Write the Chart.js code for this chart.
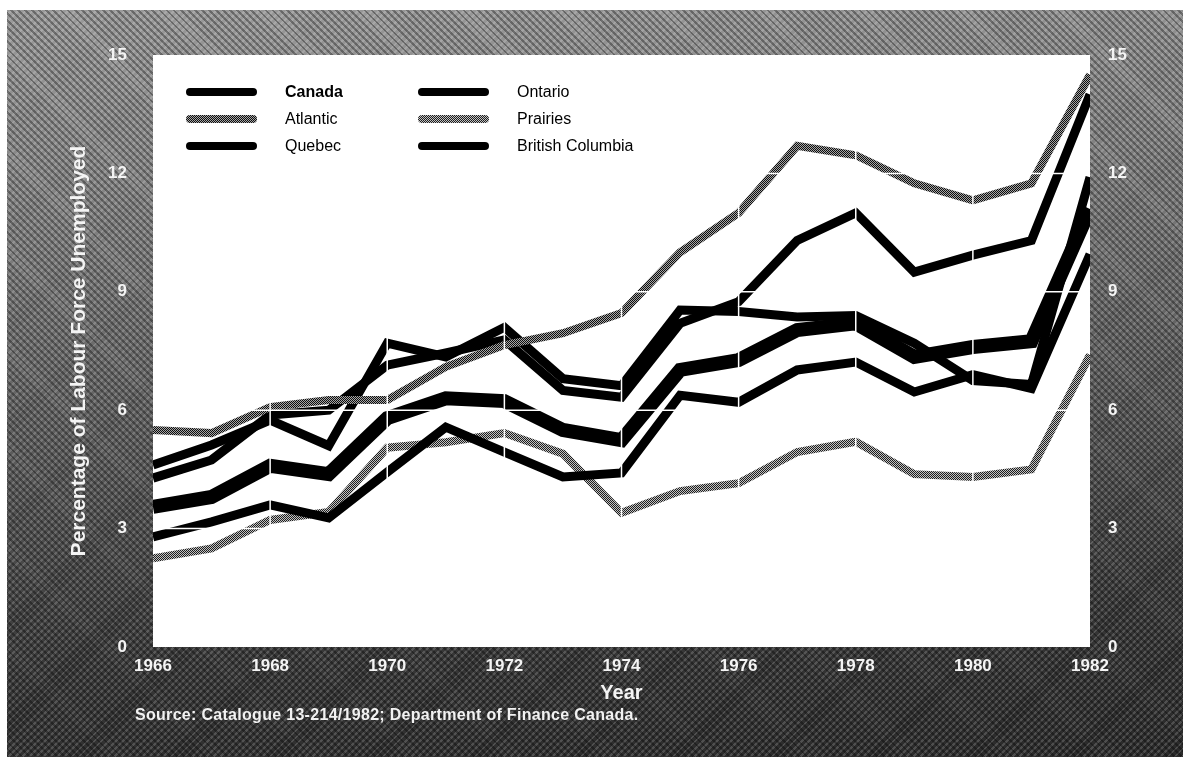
<!DOCTYPE html>
<html>
<head>
<meta charset="utf-8">
<title>Unemployment by Region, 1966-1982</title>
<script src="https://cdn.jsdelivr.net/npm/chart.js@4.4.1/dist/chart.umd.min.js"></script>
<style>
  html, body { margin: 0; padding: 0; background: #fff; }
  #wrap { position: relative; width: 1183px; height: 757px; overflow: hidden;
          font-family: 'Liberation Sans', Arial, sans-serif; }
  #frame { position: absolute; left: 7px; top: 10px; right: 0; bottom: 0;
    background-color: #555;
    background-image:
      repeating-linear-gradient(45deg, rgba(0,0,0,.32) 0 2px, rgba(0,0,0,0) 2px 5px),
      repeating-linear-gradient(-45deg, rgba(255,255,255,.16) 0 2px, rgba(255,255,255,0) 2px 5px),
      linear-gradient(176deg, #9a9a9a 0%, #828282 25%, #5a5a5a 55%, #383838 80%, #2a2a2a 100%); }
  #chart { position: absolute; left: 0; top: 0; }
  .lg { position: absolute; height: 20px; display: flex; align-items: center;
        font-size: 16px; color: #000; white-space: nowrap; }
  .sw { width: 71px; height: 8px; border-radius: 4px; margin-right: 28px; }
  #source { position: absolute; left: 135px; top: 706px; color: #f2f2f2;
            font-weight: bold; font-size: 16px; letter-spacing: 0.3px; white-space: nowrap; }
</style>
</head>
<body>
<div id="wrap">
  <div id="frame"></div>
  <canvas id="chart" width="1183" height="757"></canvas>
  <div id="legend"></div>
  <div id="source">Source: Catalogue 13-214/1982; Department of Finance Canada.</div>
</div>
<script>
  // --- Data ---
  const YEARS = ['1966', '1967', '1968', '1969', '1970', '1971', '1972', '1973', '1974',
                 '1975', '1976', '1977', '1978', '1979', '1980', '1981', '1982'];
  const TICK_YEARS = ['1966', '1968', '1970', '1972', '1974', '1976', '1978', '1980', '1982'];
  const Y_TICKS = [0, 3, 6, 9, 12, 15];

  const CANADA   = [3.55, 3.8, 4.59, 4.38, 5.8, 6.3, 6.23, 5.5, 5.24, 7.02, 7.27, 8.03, 8.2, 7.35, 7.6, 7.75, 11.1];
  const ATLANTIC = [5.5, 5.42, 6.08, 6.26, 6.26, 7.1, 7.65, 7.95, 8.46, 10.0, 11.0, 12.7, 12.46, 11.75, 11.32, 11.75, 14.5];
  const QUEBEC   = [4.28, 4.74, 5.88, 6.0, 7.14, 7.45, 7.78, 6.5, 6.33, 8.2, 8.75, 10.3, 11.0, 9.5, 9.93, 10.3, 14.0];
  const ONTARIO  = [2.79, 3.17, 3.6, 3.27, 4.43, 5.57, 4.94, 4.31, 4.41, 6.38, 6.2, 7.02, 7.22, 6.46, 6.9, 6.55, 9.95];
  const PRAIRIES = [2.25, 2.5, 3.22, 3.42, 5.05, 5.19, 5.42, 4.9, 3.4, 3.95, 4.15, 4.94, 5.2, 4.38, 4.31, 4.5, 7.4];
  const BRITISH_COLUMBIA = [4.61, 5.12, 5.75, 5.1, 7.7, 7.35, 8.1, 6.8, 6.62, 8.54, 8.5, 8.36, 8.4, 7.7, 6.75, 6.65, 11.9];

  // --- Halftone-ish gray for the two screened lines ---
  function hatch(dark, light) {
    const c = document.createElement('canvas');
    c.width = 4; c.height = 4;
    const g = c.getContext('2d');
    g.fillStyle = light; g.fillRect(0, 0, 4, 4);
    g.fillStyle = dark;
    for (let i = 0; i < 4; i++) { g.fillRect(i, i, 1, 1); g.fillRect((i + 2) % 4, i, 1, 1); }
    return c;
  }
  const atlTile = hatch('#0e0e0e', '#a6a6a6');
  const praTile = hatch('#1e1e1e', '#c2c2c2');
  const ctx = document.getElementById('chart').getContext('2d');
  const atlPat = ctx.createPattern(atlTile, 'repeat');
  const praPat = ctx.createPattern(praTile, 'repeat');

  // legend order: first column then second column
  const series = [
    { label: 'Canada', data: CANADA, color: '#000', width: 14, css: '#000', bold: true },
    { label: 'Atlantic', data: ATLANTIC, color: atlPat, width: 8, css: 'url(' + atlTile.toDataURL() + ')' },
    { label: 'Quebec', data: QUEBEC, color: '#000', width: 9, css: '#000' },
    { label: 'Ontario', data: ONTARIO, color: '#000', width: 9, css: '#000' },
    { label: 'Prairies', data: PRAIRIES, color: praPat, width: 8, css: 'url(' + praTile.toDataURL() + ')' },
    { label: 'British Columbia', data: BRITISH_COLUMBIA, color: '#000', width: 9, css: '#000' }
  ];

  // --- Plugins ---
  const plotBg = {
    id: 'plotBg',
    beforeDraw(chart) {
      const { ctx, chartArea: a } = chart;
      ctx.save();
      ctx.fillStyle = '#fff';
      ctx.fillRect(a.left, a.top, a.width, a.height);
      ctx.restore();
    }
  };

  // white rules drawn over the lines, like the gaps in the print
  const gridOver = {
    id: 'gridOver',
    afterDatasetsDraw(chart) {
      const { ctx, chartArea: a, scales: { x, y } } = chart;
      ctx.save();
      ctx.strokeStyle = '#fff';
      ctx.lineWidth = 1.5;
      TICK_YEARS.slice(1, -1).forEach(l => {
        const px = x.getPixelForValue(YEARS.indexOf(l));
        ctx.beginPath(); ctx.moveTo(px, a.top); ctx.lineTo(px, a.bottom); ctx.stroke();
      });
      Y_TICKS.slice(1, -1).forEach(v => {
        const py = y.getPixelForValue(v);
        ctx.beginPath(); ctx.moveTo(a.left, py); ctx.lineTo(a.right, py); ctx.stroke();
      });
      ctx.restore();
    }
  };

  const tickColor = '#f4f4f4';
  const tickFont = { size: 17, weight: 'bold' };
  Chart.defaults.font.family = "'Liberation Sans', Arial, sans-serif";

  new Chart(ctx, {
    type: 'line',
    data: {
      labels: YEARS,
      datasets: series.map(s => ({
        label: s.label,
        data: s.data,
        borderColor: s.color,
        backgroundColor: s.color,
        borderWidth: s.width,
        fill: false,
        clip: 0
      }))
    },
    options: {
      responsive: false,
      animation: false,
      layout: { padding: { top: 55, left: 0, right: 0, bottom: 0 } },
      plugins: { legend: { display: false }, tooltip: { enabled: false } },
      elements: {
        point: { radius: 0 },
        line: { tension: 0, borderJoinStyle: 'miter', borderCapStyle: 'butt' }
      },
      scales: {
        x: {
          type: 'category',
          offset: false,
          grid: { display: false, drawTicks: false },
          border: { display: false },
          afterBuildTicks(s) { s.ticks = TICK_YEARS.map(l => ({ value: YEARS.indexOf(l) })); },
          ticks: { autoSkip: false, maxRotation: 0, padding: 9, color: tickColor, font: tickFont },
          title: { display: true, text: 'Year', color: tickColor,
                   font: { size: 20, weight: 'bold' }, padding: { top: 0, bottom: 52 } },
          afterFit(s) { s.height = 110; }
        },
        y: {
          position: 'left',
          min: 0, max: 15,
          grid: { display: false, drawTicks: false },
          border: { display: false },
          afterBuildTicks(s) { s.ticks = Y_TICKS.map(v => ({ value: v })); },
          ticks: { padding: 26, color: tickColor, font: tickFont },
          title: { display: true, text: 'Percentage of Labour Force Unemployed', color: tickColor,
                   font: { size: 21, weight: 'bold' }, padding: { top: 67, bottom: 0 } },
          afterFit(s) { s.width = 153; }
        },
        y2: {
          position: 'right',
          min: 0, max: 15,
          grid: { display: false, drawTicks: false },
          border: { display: false },
          afterBuildTicks(s) { s.ticks = Y_TICKS.map(v => ({ value: v })); },
          ticks: { padding: 18, color: tickColor, font: tickFont },
          afterFit(s) { s.width = 93; }
        }
      }
    },
    plugins: [plotBg, gridOver]
  });

  // --- Legend inside the plot, two columns of three ---
  const slots = [[186, 92], [186, 119], [186, 146], [418, 92], [418, 119], [418, 146]];
  const legendEl = document.getElementById('legend');
  series.forEach((s, i) => {
    const item = document.createElement('div');
    item.className = 'lg';
    item.style.left = slots[i][0] + 'px';
    item.style.top = (slots[i][1] - 10) + 'px';
    const sw = document.createElement('div');
    sw.className = 'sw';
    sw.style.background = s.css;
    const txt = document.createElement('span');
    txt.textContent = s.label;
    if (s.bold) txt.style.fontWeight = 'bold';
    item.appendChild(sw);
    item.appendChild(txt);
    legendEl.appendChild(item);
  });
</script>
</body>
</html>
